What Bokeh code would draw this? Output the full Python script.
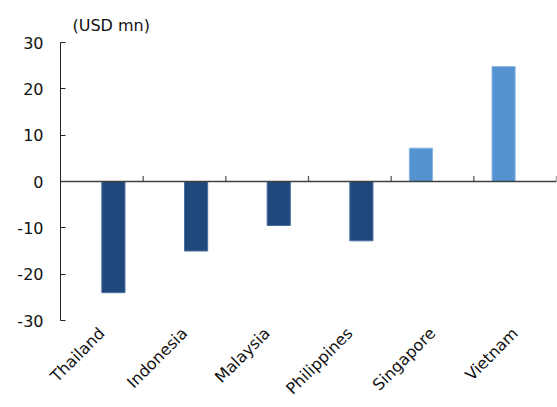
import math
from bokeh.plotting import figure
from bokeh.models import ColumnDataSource, FactorRange, Range1d, FixedTicker, Span
from bokeh.transform import dodge
from bokeh.embed import file_html
from bokeh.resources import INLINE

countries = ["Thailand", "Indonesia", "Malaysia", "Philippines", "Singapore", "Vietnam"]
values = [-24.0, -15.0, -9.5, -12.8, 7.2, 24.8]
y_ticks = [-30, -20, -10, 0, 10, 20, 30]
unit_label = "(USD mn)"

DARK = "#1F497D"
LIGHT = "#5592D0"
FONT = "DejaVu Sans"

neg = ColumnDataSource(dict(x=[c for c, v in zip(countries, values) if v < 0],
                            top=[v for v in values if v < 0]))
pos = ColumnDataSource(dict(x=[c for c, v in zip(countries, values) if v >= 0],
                            top=[v for v in values if v >= 0]))
bounds = ColumnDataSource(dict(x=countries, y0=[0] * len(countries), y1=[1.2] * len(countries)))

p = figure(x_range=FactorRange(factors=countries), y_range=Range1d(-30, 30),
           width=557, height=407, output_backend="svg", toolbar_location=None,
           min_border_left=60, min_border_right=1, min_border_top=42, min_border_bottom=86)
p.title.text = unit_label
p.title.text_font = FONT
p.title.text_font_size = "16px"
p.title.text_font_style = "normal"
p.title.text_color = "#111111"
p.title.align = "left"
p.title.offset = 12
p.title.standoff = 16

p.vbar(x=dodge("x", 0.14, range=p.x_range), top="top", bottom=0, width=0.28,
       source=neg, fill_color=DARK, line_color="#4A6E9C", line_width=1)
p.vbar(x=dodge("x", -0.14, range=p.x_range), top="top", bottom=0, width=0.28,
       source=pos, fill_color=LIGHT, line_color="#8DB6E4", line_width=1)

p.add_layout(Span(location=0, dimension="width", line_color="#404040", line_width=1.3))
p.segment(x0=dodge("x", 0.5, range=p.x_range), x1=dodge("x", 0.5, range=p.x_range),
          y0="y0", y1="y1", source=bounds, line_color="#595959", line_width=1.3)

p.xgrid.visible = False
p.ygrid.visible = False
p.outline_line_color = None

p.yaxis.ticker = FixedTicker(ticks=y_ticks)
p.yaxis.major_label_overrides = {t: str(t) for t in y_ticks}
p.yaxis.axis_line_color = "#202020"
p.yaxis.major_tick_line_color = "#202020"
p.yaxis.major_tick_in = 5
p.yaxis.major_tick_out = 0
p.yaxis.minor_tick_line_color = None
p.yaxis.major_label_text_font = FONT
p.yaxis.major_label_text_font_size = "16px"
p.yaxis.major_label_text_color = "#111111"
p.yaxis.major_label_standoff = 17

p.xaxis.axis_line_color = None
p.xaxis.major_tick_line_color = None
p.xaxis.major_tick_in = 0
p.xaxis.major_tick_out = 0
p.xaxis.major_label_orientation = math.pi / 4
p.xaxis.major_label_text_font = FONT
p.xaxis.major_label_text_font_size = "16px"
p.xaxis.major_label_text_color = "#111111"
p.xaxis.major_label_standoff = 10

open("out.html", "w").write(file_html(p, INLINE))
